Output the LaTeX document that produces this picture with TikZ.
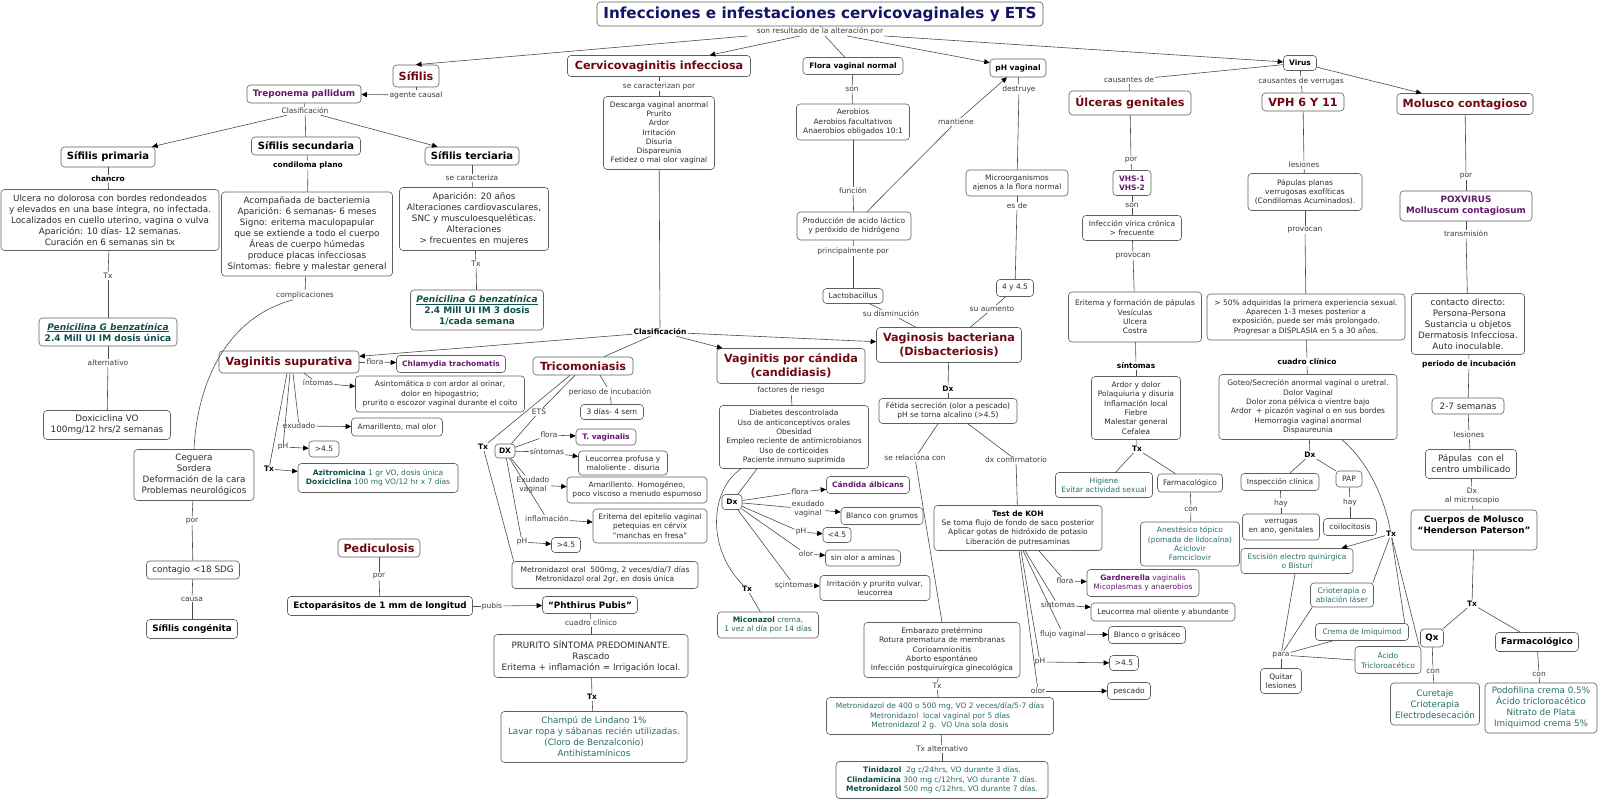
\documentclass[tikz,border=0pt]{standalone}
\usepackage{fontspec}
\setmainfont{DejaVu Sans}
\usetikzlibrary{arrows.meta}
\definecolor{txt}{RGB}{45,45,45}
\definecolor{lab}{RGB}{60,60,60}
\definecolor{bord}{RGB}{95,95,95}
\definecolor{linec}{RGB}{75,75,75}
\definecolor{hdc}{RGB}{110,8,18}
\definecolor{pur}{RGB}{100,25,110}
\definecolor{tea}{RGB}{40,110,105}
\definecolor{teaD}{RGB}{15,80,75}
\definecolor{navy}{RGB}{20,20,105}
\newcommand\fsA{\fontsize{7.5}{9.3}\selectfont}
\newcommand\fsB{\fontsize{8.8}{11}\selectfont}
\newcommand\fsH{\fontsize{11.2}{13.5}\selectfont\bfseries}
\newcommand\fsT{\fontsize{15.2}{18}\selectfont\bfseries}
\newcommand\fsM{\fontsize{10}{12}\selectfont\bfseries}
\newcommand\fsN{\fontsize{8.8}{11}\selectfont\bfseries}
\newcommand\fsP{\fontsize{9}{11}\selectfont\bfseries}
\newcommand\Bx[6]{\node[bx,minimum width=#4,minimum height=#5,#1] (#2) at (#3) {#6};}
\newcommand\Lb[4]{\node[lb,#1] (#2) at (#3) {#4};}
\tikzset{
  bx/.style={draw=bord, line width=0.6pt, rounded corners=3.5pt, fill=white, align=center, inner sep=1pt, text=txt},
  lb/.style={inner sep=1pt, align=center, text=lab, font=\fsA},
  lbb/.style={text=black, font=\fsA\bfseries},
  hd/.style={text=hdc, font=\fsH},
  pu/.style={text=pur, font=\fsA\bfseries},
  te/.style={text=tea},
  ln/.style={draw=linec, line width=0.6pt},
  ar/.style={ln, -{Triangle[length=5.5pt,width=5pt,color=black]}},
}
\begin{document}
\begin{tikzpicture}[x=1pt,y=-1pt,font=\fsA]
\fill[white] (0,0) rectangle (1600,799);
\useasboundingbox (0,0) rectangle (1600,799);

% ---------- title
\Bx{font=\fsT,text=navy}{t}{820,14}{446}{24}{Infecciones e infestaciones cervicovaginales y ETS}
\Lb{}{l0}{820,31}{son resultado de la alteración por}

% ---------- Sifilis
\Bx{hd}{sif}{416,76}{46}{22}{Sífilis}
\Lb{}{lag}{416,95}{agente causal}
\Bx{pu,font=\fontsize{8.9}{11}\selectfont\bfseries}{trep}{304,94}{114}{18}{Treponema pallidum}
\Lb{}{lcla}{305,111}{Clasificación}
\Bx{font=\fsM,text=black}{sp}{108,157}{94}{20}{Sífilis primaria}
\Bx{font=\fsM,text=black}{ss}{306,146}{109}{18}{Sífilis secundaria}
\Bx{font=\fsM,text=black}{st}{472,156}{94}{18}{Sífilis terciaria}
\Lb{lbb}{lch}{108,179}{chancro}
\Bx{font=\fsB}{ulc}{110,220}{218}{61}{Ulcera no dolorosa con bordes redondeados\\y elevados en una base íntegra, no infectada.\\Localizados en cuello uterino, vagina o vulva\\Aparición: 10 días- 12 semanas.\\Curación en 6 semanas sin tx}
\Lb{lbb}{lcp}{308,165}{condiloma plano}
\Bx{font=\fsB}{aco}{307,234}{171}{84}{Acompañada de bacteriemia\\Aparición: 6 semanas- 6 meses\\Signo: eritema maculopapular\\que se extiende a todo el cuerpo\\Áreas de cuerpo húmedas\\produce placas infecciosas\\Síntomas: fiebre y malestar general}
\Lb{}{lsc}{472,178}{se caracteriza}
\Bx{font=\fsB}{apa}{474,219}{149}{63}{Aparición: 20 años\\Alteraciones cardiovasculares,\\SNC y musculoesqueléticas.\\Alteraciones\\> frecuentes en mujeres}
\Lb{}{ltxa}{476,264}{Tx}
\Bx{font=\fsP,text=teaD}{pen3}{477,310}{133}{40}{\underline{\textit{Penicilina G benzatínica}}\\2.4 Mill UI IM 3 dosis\\1/cada semana}
\Lb{}{ltxb}{108,276}{Tx}
\Bx{font=\fsP,text=teaD}{pen1}{108,332}{138}{28}{\underline{\textit{Penicilina G benzatínica}}\\2.4 Mill UI IM dosis única}
\Lb{}{lalt}{108,363}{alternativo}
\Bx{font=\fsB}{dox}{107,425}{127}{29}{Doxiciclina VO\\100mg/12 hrs/2 semanas}
\Lb{}{lcomp}{305,295}{complicaciones}
\Bx{font=\fsB}{ceg}{194,475}{120}{51}{Ceguera\\Sordera\\Deformación de la cara\\Problemas neurológicos}
\Lb{}{lpor1}{192,521}{por}
\Bx{font=\fsB}{cont}{193,570}{93}{18}{contagio <18 SDG}
\Lb{}{lcausa}{192,599}{causa}
\Bx{font=\fsN,text=black}{scong}{192,629}{91}{19}{Sífilis congénita}

% ---------- Cervicovaginitis
\Bx{hd}{cv}{659,66}{183}{21}{Cervicovaginitis infecciosa}
\Lb{}{lscp}{659,86}{se caracterizan por}
\Bx{}{desc}{659,133}{111}{73}{Descarga vaginal anormal\\Prurito\\Ardor\\Irritación\\Disuria\\Dispareunia\\Fetidez o mal olor vaginal}
\Lb{lbb}{lcl2}{660,332}{Clasificación}

\Bx{hd}{vs}{289,362}{140}{22}{Vaginitis supurativa}
\Lb{}{lfl1}{375,362}{flora}
\Bx{pu}{chla}{451,364}{109}{17}{Chlamydia trachomatis}
\Lb{}{lsin1}{318,383}{íntomas}
\Bx{}{asin}{440,394}{169}{36}{Asintomática o con ardor al orinar,\\dolor en hipogastrio;\\prurito o escozor vaginal durante el coito}
\Lb{}{lex1}{299,426}{exudado}
\Bx{}{ama1}{397,427}{91}{18}{Amarillento, mal olor}
\Lb{}{lph1}{283,447}{pH}
\Bx{}{pha}{324,449}{30}{16}{>4.5}
\Lb{lbb}{ltx3}{269,469}{Tx}
\Bx{te}{azi}{378,478}{160}{29}{\textcolor{teaD}{\bfseries Azitromicina} 1 gr VO, dosis única\\\textcolor{teaD}{\bfseries Doxiciclina} 100 mg VO/12 hr x 7 días}

\Bx{hd}{tri}{583,366}{100}{18}{Tricomoniasis}
\Lb{}{linc}{610,392}{perioso de incubación}
\Bx{}{dias}{612,412}{63}{15}{3 días- 4 sem}
\Lb{}{lets}{539,412}{ETS}
\Lb{lbb}{ltx4}{483,447}{Tx}
\Bx{font=\fsA\bfseries,text=black}{dx1}{505,451}{20}{14}{DX}
\Lb{}{lfl2}{549,435}{flora}
\Bx{pu}{tvag}{606,437}{60}{16}{T. vaginalis}
\Lb{}{lsin2}{547,452}{síntomas}
\Bx{}{leu1}{623,463}{89}{24}{Leucorrea profusa y\\maloliente . disuria}
\Lb{}{lexv}{533,485}{Exudado\\vaginal}
\Bx{}{ama2}{637,490}{140}{26}{Amarillento. Homogéneo,\\poco viscoso a menudo espumoso}
\Lb{}{linf}{547,519}{inflamación}
\Bx{}{eri}{650,526}{114}{34}{Eritema del epitelio vaginal\\petequias en cérvix\\"manchas en fresa"}
\Lb{}{lph2}{522,542}{pH}
\Bx{}{phb}{566,545}{29}{15}{>4.5}
\Bx{}{met1}{605,575}{186}{27}{Metronidazol oral\ \ 500mg, 2 veces/día/7 días\\Metronidazol oral 2gr, en dosis única}

\Bx{hd}{cand}{791,366}{148}{35}{Vaginitis por cándida\\(candidiasis)}
\Lb{}{lfr}{791,390}{factores de riesgo}
\Bx{}{diab}{794,437}{149}{63}{Diabetes descontrolada\\Uso de anticonceptivos orales\\Obesidad\\Empleo reciente de antimicrobianos\\Uso de corticoides\\Paciente inmuno suprimida}
\Bx{font=\fsA\bfseries,text=black}{dx2}{732,502}{20}{15}{Dx}
\Lb{}{lfl3}{800,492}{flora}
\Bx{pu}{calb}{868,485}{83}{17}{Cándida álbicans}
\Lb{}{lexv2}{808,509}{exudado\\vaginal}
\Bx{}{bcg}{882,516}{82}{17}{Blanco con grumos}
\Lb{}{lph3}{801,532}{pH}
\Bx{}{phc}{837,535}{28}{15}{<4.5}
\Lb{}{lol}{806,554}{olor}
\Bx{}{sol}{863,558}{75}{16}{sin olor a aminas}
\Lb{}{lsc2}{794,585}{sçintomas}
\Bx{}{irr}{875,588}{110}{25}{Irritación y prurito vulvar,\\leucorrea}
\Lb{lbb}{ltx5}{747,589}{Tx}
\Bx{te}{mic}{768,625}{101}{26}{\textcolor{teaD}{\bfseries Miconazol} crema,\\1 vez al día por 14 días}

% ---------- Flora / pH
\Bx{font=\fsA\bfseries,text=black}{flo}{853,66}{100}{17}{Flora vaginal normal}
\Lb{}{lson1}{852,89}{son}
\Bx{}{aer}{853,122}{113}{36}{Aerobios\\Aerobios facultativos\\Anaerobios obligados 10:1}
\Lb{}{lfun}{853,191}{función}
\Bx{}{prod}{854,226}{114}{28}{Producción de acido láctico\\y peróxido de hidrógeno}
\Lb{}{lpp}{853,251}{principalmente por}
\Bx{}{lac}{853,296}{60}{15}{Lactobacillus}
\Lb{}{ldis}{891,314}{su disminución}

\Bx{font=\fsA\bfseries,text=black}{phv}{1018,68}{56}{18}{pH vaginal}
\Lb{}{lman}{956,122}{mantiene}
\Lb{}{ldes}{1019,89}{destruye}
\Bx{}{micro}{1017,183}{102}{26}{Microorganismos\\ajenos a la flora normal}
\Lb{}{lesd}{1017,206}{es de}
\Bx{}{c445}{1015,288}{37}{17}{4 y 4.5}
\Lb{}{laum}{992,309}{su aumento}

\Bx{hd}{vb}{949,345}{145}{35}{Vaginosis bacteriana\\(Disbacteriosis)}
\Lb{lbb}{ldx3}{948,389}{Dx}
\Bx{}{fet}{948,411}{138}{25}{Fétida secreción (olor a pescado)\\pH se torna alcalino (>4.5)}
\Lb{}{lrel}{915,458}{se relaciona con}
\Lb{}{ldxc}{1016,460}{dx confirmatorio}
\Bx{}{koh}{1018,528}{168}{45}{\textcolor{black}{\bfseries Test de KOH}\\Se toma flujo de fondo de saco posterior\\Aplicar gotas de hidróxido de potasio\\Liberación de putresaminas}
\Lb{}{lfl4}{1065,581}{flora}
\Bx{text=pur}{gard}{1143,583}{112}{27}{\textbf{Gardnerella} vaginalis\\Micoplasmas y anaerobios}
\Lb{}{lsin3}{1058,605}{síntomas}
\Bx{}{leu2}{1163,612}{144}{18}{Leucorrea mal oliente y abundante}
\Lb{}{lfv}{1063,634}{flujo vaginal}
\Bx{}{bog}{1147,635}{77}{17}{Blanco o grisáceo}
\Lb{}{lph4}{1040,662}{pH}
\Bx{}{phd}{1124,663}{29}{15}{>4.5}
\Lb{}{lol2}{1038,691}{olor}
\Bx{}{pesc}{1129,691}{43}{17}{pescado}
\Bx{}{emb}{942,650}{156}{55}{Embarazo pretérmino\\Rotura prematura de membranas\\Corioamnionitis\\Aborto espontáneo\\Infección postquiruírgica ginecológica}
\Lb{}{ltx6}{937,686}{Tx}
\Bx{te}{met4}{940,716}{227}{37}{Metronidazol de 400 o 500 mg, VO 2 veces/día/5-7 días\\Metronidazol\ \ local vaginal por 5 días\\Metronidazol 2 g.\ \ VO Una sola dosis}
\Lb{}{ltxalt}{942,749}{Tx alternativo}
\Bx{te}{tini}{942,780}{212}{37}{\textcolor{teaD}{\bfseries Tinidazol}\ \ 2g c/24hrs, VO durante 3 días.\\\textcolor{teaD}{\bfseries Clindamicina} 300 mg c/12hrs, VO durante 7 días.\\\textcolor{teaD}{\bfseries Metronidazol} 500 mg c/12hrs, VO durante 7 días.}

% ---------- Virus
\Bx{font=\fsA\bfseries,text=black}{virus}{1300,63}{33}{15}{Virus}
\Lb{}{lcaus}{1129,80}{causantes de}
\Bx{hd}{ulg}{1130,103}{122}{24}{Úlceras genitales}
\Lb{}{lpor2}{1131,160}{por}
\Bx{pu}{vhs}{1132,183}{38}{25}{VHS-1\\VHS-2}
\Lb{}{lson2}{1132,205}{son}
\Bx{}{inf}{1132,228}{99}{25}{Infección vírica crónica\\> frecuente}
\Lb{}{lprov1}{1133,256}{provocan}
\Bx{}{erf}{1135,317}{133}{50}{Eritema y formación de pápulas\\Vesículas\\Ulcera\\Costra}
\Lb{lbb}{lsint}{1136,366}{síntomas}
\Bx{}{ard}{1136,408}{89}{63}{Ardor y dolor\\Polaquiuria y disuria\\Inflamación local\\Fiebre\\Malestar general\\Cefalea}
\Lb{lbb}{ltx7}{1137,449}{Tx}
\Bx{te}{hig}{1104,485}{97}{25}{Higiene\\Evitar actividad sexual}
\Bx{}{farm1}{1190,483}{65}{18}{Farmacológico}
\Lb{}{lcon1}{1191,509}{con}
\Bx{te}{anes}{1190,544}{99}{44}{Anestésico tópico\\(pomada de lidocaína)\\Aciclovir\\Famciclovir}

\Lb{}{lcv}{1301,81}{causantes de verrugas}
\Bx{hd}{vph}{1303,102}{82}{18}{VPH 6 Y 11}
\Lb{}{lles1}{1304,165}{lesiones}
\Bx{}{pap}{1305,192}{114}{37}{Pápulas planas\\verrugosas exofíticas\\(Condilomas Acuminados).}
\Lb{}{lprov2}{1305,230}{provocan}
\Bx{}{p50}{1306,317}{198}{46}{> 50\% adquiridas la primera experiencia sexual.\\Aparecen 1-3 meses posterior a\\exposición, puede ser más prolongado.\\Progresar a DISPLASIA en 5 a 30 años.}
\Lb{lbb}{lcc}{1307,362}{cuadro clínico}
\Bx{}{got}{1308,407}{178}{65}{Goteo/Secreción anormal vaginal o uretral.\\Dolor Vaginal\\Dolor zona pélvica o vientre bajo\\Ardor\ \ + picazón vaginal o en sus bordes\\Hemorragia vaginal anormal\\Dispaureunia}
\Lb{lbb}{ldx4}{1310,455}{Dx}
\Bx{}{insp}{1280,482}{78}{17}{Inspección clínica}
\Bx{}{pap2}{1349,479}{26}{16}{PAP}
\Lb{}{lhay1}{1281,503}{hay}
\Bx{}{verr}{1281,527}{77}{26}{verrugas\\en ano, genitales}
\Lb{}{lhay2}{1350,502}{hay}
\Bx{}{coil}{1350,527}{53}{17}{coilocitosis}
\Lb{lbb}{ltx8}{1391,534}{Tx}
\Bx{te}{esc}{1297,561}{112}{25}{Escisión electro quirúrgica\\o Bisturí}
\Bx{te}{crio}{1342,595}{63}{24}{Crioterapia o\\ablación láser}
\Bx{te}{crem}{1362,632}{93}{17}{Crema de Imiquimod}
\Bx{te}{acid}{1388,660}{66}{27}{Ácido\\Tricloroacético}
\Lb{}{lpara}{1281,655}{para}
\Bx{}{quit}{1281,681}{41}{25}{Quitar\\lesiones}

\Bx{hd}{mol}{1465,104}{136}{21}{Molusco contagioso}
\Lb{}{lpor3}{1466,176}{por}
\Bx{pu,font=\fsN}{pox}{1466,206}{132}{30}{POXVIRUS\\Molluscum contagiosum}
\Lb{}{ltra}{1466,234}{transmisión}
\Bx{font=\fsB}{cdir}{1468,324}{113}{61}{contacto directo:\\\ Persona-Persona\\Sustancia u objetos\\Dermatosis Infecciosa.\\Auto inoculable.}
\Lb{lbb}{lpinc}{1469,364}{periodo de incubación}
\Bx{font=\fsB}{s27}{1468,406}{72}{16}{2-7 semanas}
\Lb{}{lles2}{1469,435}{lesiones}
\Bx{font=\fsB}{pcu}{1471,464}{91}{29}{Pápulas\ \ con el\\centro umbilicado}
\Lb{}{ldxm}{1472,496}{Dx\\al microscopio}
\Bx{font=\fsN,text=black}{cue}{1474,530}{126}{40}{Cuerpos de Molusco\\“Henderson Paterson”\\\mbox{}}
\Lb{lbb}{ltx9}{1472,604}{Tx}
\Bx{font=\fsN,text=black}{qx}{1432,638}{23}{18}{Qx}
\Bx{font=\fsN,text=black}{farm2}{1537,642}{83}{19}{Farmacológico}
\Lb{}{lcon2}{1433,671}{con}
\Bx{te,font=\fsB}{cur}{1435,704}{89}{42}{Curetaje\\Crioterapia\\Electrodesecación}
\Lb{}{lcon3}{1539,674}{con}
\Bx{te,font=\fsB}{podo}{1541,708}{112}{50}{Podofilina crema 0.5\%\\Ácido tricloroacético\\Nitrato de Plata\\Imiquimod crema 5\%}

% ---------- Pediculosis
\Bx{hd}{ped}{379,548}{82}{18}{Pediculosis}
\Lb{}{lpor4}{379,576}{por}
\Bx{font=\fsN,text=black}{ecto}{380,606}{185}{19}{Ectoparásitos de 1 mm de longitud}
\Lb{}{lpub}{492,606}{pubis}
\Bx{font=\fsN,text=black}{phth}{590,605}{95}{17}{“Phthirus Pubis”}
\Lb{}{lcc2}{591,623}{cuadro clínico}
\Bx{font=\fsB}{prur}{591,656}{194}{43}{PRURITO SÍNTOMA PREDOMINANTE.\\Rascado\\Eritema + inflamación = Irrigación local.}
\Lb{lbb}{ltx10}{592,697}{Tx}
\Bx{te,font=\fsB}{cham}{594,737}{186}{51}{Champú de Lindano 1\%\\Lavar ropa y sábanas recién utilizadas.\\(Cloro de Benzalconio)\\Antihistamínicos}

% ================= connectors
\draw[ln] (t) -- (l0);
\draw[ar] ([xshift=-8pt]l0.south west) -- (sif.north);
\draw[ar] ([xshift=-20pt]l0.south) -- (cv);
\draw[ln] ([xshift=5pt]l0.south) -- (flo);
\draw[ar] ([xshift=27pt]l0.south) -- (phv);
\draw[ar] (l0.south east) -- (virus);

% sifilis
\draw[ln] (sif) -- (lag);
\draw[ar] (lag) -- (trep);
\draw[ln] (trep) -- (lcla);
\draw[ar] (lcla) -- (sp);
\draw[ln] (lcla) -- (ss);
\draw[ar] (lcla) -- (st);
\draw[ln] (sp) -- (lch);
\draw[ln] (lch) -- (ulc);
\draw[ln] (ss) -- (lcp);
\draw[ln] (lcp) -- (aco);
\draw[ln] (st) -- (lsc);
\draw[ln] (lsc) -- (apa);
\draw[ln] (apa) -- (ltxa);
\draw[ln] (ltxa) -- (pen3);
\draw[ln] (ulc) -- (ltxb);
\draw[ln] (ltxb) -- (pen1);
\draw[ln] (pen1) -- (lalt);
\draw[ln] (lalt) -- (dox);
\draw[ln] (aco) -- (lcomp);
\draw[ln] ([xshift=-12pt]lcomp.south) .. controls (225,318) and (197,385) .. (ceg.north);
\draw[ln] (ceg) -- (lpor1);
\draw[ln] (lpor1) -- (cont);
\draw[ln] (cont) -- (lcausa);
\draw[ln] (lcausa) -- (scong);

% cervicovaginitis
\draw[ln] (cv) -- (lscp);
\draw[ln] (lscp) -- (desc);
\draw[ln] (desc) -- (lcl2);
\draw[ar] (lcl2) -- (vs);
\draw[ln] (lcl2) -- (tri);
\draw[ar] (lcl2) -- (cand);
\draw[ar] (lcl2) -- (vb);

\draw[ln] (vs) -- (lfl1);
\draw[ar] (lfl1) -- (chla);
\draw[ln] ([xshift=15pt]vs.south) -- (lsin1);
\draw[ar] (lsin1) -- (asin);
\draw[ln] ([xshift=4pt]vs.south) -- (lex1);
\draw[ar] (lex1) -- (ama1);
\draw[ln] ([xshift=1pt]vs.south) -- (lph1);
\draw[ar] (lph1) -- (pha);
\draw[ln] ([xshift=-2pt]vs.south) -- (ltx3);
\draw[ar] (ltx3) -- (azi);

\draw[ln] ([xshift=17pt]tri.south) -- (linc);
\draw[ln] (linc) -- (dias);
\draw[ln] ([xshift=-8pt]tri.south) -- (lets);
\draw[ln] (lets) -- (dx1);
\draw[ln] ([xshift=-13pt]tri.south) -- (ltx4);
\draw[ln] (ltx4) -- ([xshift=2pt]met1.north west);
\draw[ln] (dx1) -- (lfl2);
\draw[ar] (lfl2) -- (tvag);
\draw[ln] (dx1) -- (lsin2);
\draw[ar] (lsin2) -- (leu1);
\draw[ln] (dx1) -- (lexv);
\draw[ar] (lexv) -- (ama2);
\draw[ln] (dx1) -- (linf);
\draw[ar] (linf) -- (eri);
\draw[ln] (dx1) -- (lph2);
\draw[ar] (lph2) -- (phb);

\draw[ln] (cand) -- (lfr);
\draw[ln] (lfr) -- (diab);
\draw[ln] ([xshift=-37pt]diab.south) -- (dx2);
\draw[ln] ([xshift=-53pt]diab.south) .. controls (710,490) and (706,548) .. (ltx5);
\draw[ln] (ltx5) -- (mic);
\draw[ln] (dx2) -- (lfl3);
\draw[ar] (lfl3) -- (calb);
\draw[ln] (dx2) -- (lexv2);
\draw[ar] (lexv2) -- (bcg);
\draw[ln] (dx2) -- (lph3);
\draw[ar] (lph3) -- (phc);
\draw[ln] (dx2) -- (lol);
\draw[ar] (lol) -- (sol);
\draw[ln] (dx2) -- (lsc2);
\draw[ar] (lsc2) -- (irr);

% flora / pH
\draw[ln] (flo) -- (lson1);
\draw[ln] (lson1) -- (aer);
\draw[ln] (aer) -- (lfun);
\draw[ln] (lfun) -- (prod);
\draw[ln] (prod) -- (lpp);
\draw[ln] (lpp) -- (lac);
\draw[ln] (lac) -- (ldis);
\draw[ln] (ldis) -- (vb);
\draw[ln] ([xshift=13pt]prod.north) -- (lman);
\draw[ar] (lman) -- ([xshift=-11pt]phv.south);
\draw[ln] (phv) -- (ldes);
\draw[ln] (ldes) -- (micro);
\draw[ln] (micro) -- (lesd);
\draw[ln] (lesd) -- (c445);
\draw[ln] (c445) -- (laum);
\draw[ln] (laum) -- (vb);

% vaginosis
\draw[ln] (vb) -- (ldx3);
\draw[ln] (ldx3) -- (fet);
\draw[ln] ([xshift=-10pt]fet.south) -- (lrel);
\draw[ln] (lrel) -- (emb.north);
\draw[ln] ([xshift=20pt]fet.south) -- (ldxc);
\draw[ln] (ldxc) -- (koh);
\draw[ln] ([xshift=21pt]koh.south) -- (lfl4);
\draw[ar] (lfl4) -- (gard);
\draw[ln] ([xshift=7pt]koh.south) -- (lsin3);
\draw[ar] (lsin3) -- (leu2);
\draw[ln] ([xshift=5pt]koh.south) -- (lfv);
\draw[ar] (lfv) -- (bog);
\draw[ln] ([xshift=3pt]koh.south) -- (lph4);
\draw[ar] (lph4) -- (phd);
\draw[ln] ([xshift=1pt]koh.south) -- (lol2);
\draw[ar] (lol2) -- (pesc);
\draw[ln] (emb) -- (ltx6);
\draw[ln] (ltx6) -- (met4);
\draw[ln] (met4) -- (ltxalt);
\draw[ln] (ltxalt) -- (tini);

% virus
\draw[ln] (virus) -- (lcaus);
\draw[ln] (lcaus) -- (ulg);
\draw[ln] (virus) -- (lcv);
\draw[ln] (lcv) -- (vph);
\draw[ar] (virus) -- (mol);

\draw[ln] (ulg) -- (lpor2);
\draw[ln] (lpor2) -- (vhs);
\draw[ln] (vhs) -- (lson2);
\draw[ln] (lson2) -- (inf);
\draw[ln] (inf) -- (lprov1);
\draw[ln] (lprov1) -- (erf);
\draw[ln] (erf) -- (lsint);
\draw[ln] (lsint) -- (ard);
\draw[ln] (ard) -- (ltx7);
\draw[ln] (ltx7) -- (hig);
\draw[ln] (ltx7) -- (farm1);
\draw[ln] (farm1) -- (lcon1);
\draw[ln] (lcon1) -- (anes);

\draw[ln] (vph) -- (lles1);
\draw[ln] (lles1) -- (pap);
\draw[ln] (pap) -- (lprov2);
\draw[ln] (lprov2) -- (p50);
\draw[ln] (p50) -- (lcc);
\draw[ln] (lcc) -- (got);
\draw[ln] (got) -- (ldx4);
\draw[ln] (ldx4) -- (insp);
\draw[ln] (ldx4) -- (pap2);
\draw[ln] (insp) -- (lhay1);
\draw[ln] (lhay1) -- (verr);
\draw[ln] (pap2) -- (lhay2);
\draw[ln] (lhay2) -- (coil);
\draw[ln] ([xshift=34pt]got.south) .. controls (1368,462) and (1384,497) .. (ltx8);
\draw[ar] (ltx8) -- (esc);
\draw[ln] (ltx8) -- ([xshift=-1pt]crio.north east);
\draw[ln] (ltx8) -- ([xshift=-4pt]crem.north east);
\draw[ln] (ltx8) -- ([xshift=-2pt]acid.north east);
\draw[ln] ([xshift=-2pt]esc.south) -- (lpara);
\draw[ln] ([xshift=2pt]crio.south west) -- (lpara);
\draw[ln] ([xshift=-29pt]crem.south) -- (lpara);
\draw[ln] (acid.west) -- (lpara);
\draw[ln] (lpara) -- (quit);

\draw[ln] (mol) -- (lpor3);
\draw[ln] (lpor3) -- (pox);
\draw[ln] (pox) -- (ltra);
\draw[ln] (ltra) -- (cdir);
\draw[ln] (cdir) -- (lpinc);
\draw[ln] (lpinc) -- (s27);
\draw[ln] (s27) -- (lles2);
\draw[ln] (lles2) -- (pcu);
\draw[ln] (pcu) -- (ldxm);
\draw[ln] (ldxm) -- (cue);
\draw[ln] (cue) -- (ltx9);
\draw[ln] (ltx9) -- (qx);
\draw[ln] (ltx9) -- (farm2);
\draw[ln] (qx) -- (lcon2);
\draw[ln] (lcon2) -- (cur);
\draw[ln] (farm2) -- (lcon3);
\draw[ln] (lcon3) -- (podo);

% pediculosis
\draw[ln] (ped) -- (lpor4);
\draw[ln] (lpor4) -- (ecto);
\draw[ln] (ecto) -- (lpub);
\draw[ar] (lpub) -- (phth);
\draw[ln] (phth) -- (lcc2);
\draw[ln] (lcc2) -- (prur);
\draw[ln] (prur) -- (ltx10);
\draw[ln] (ltx10) -- (cham);
\end{tikzpicture}
\end{document}
